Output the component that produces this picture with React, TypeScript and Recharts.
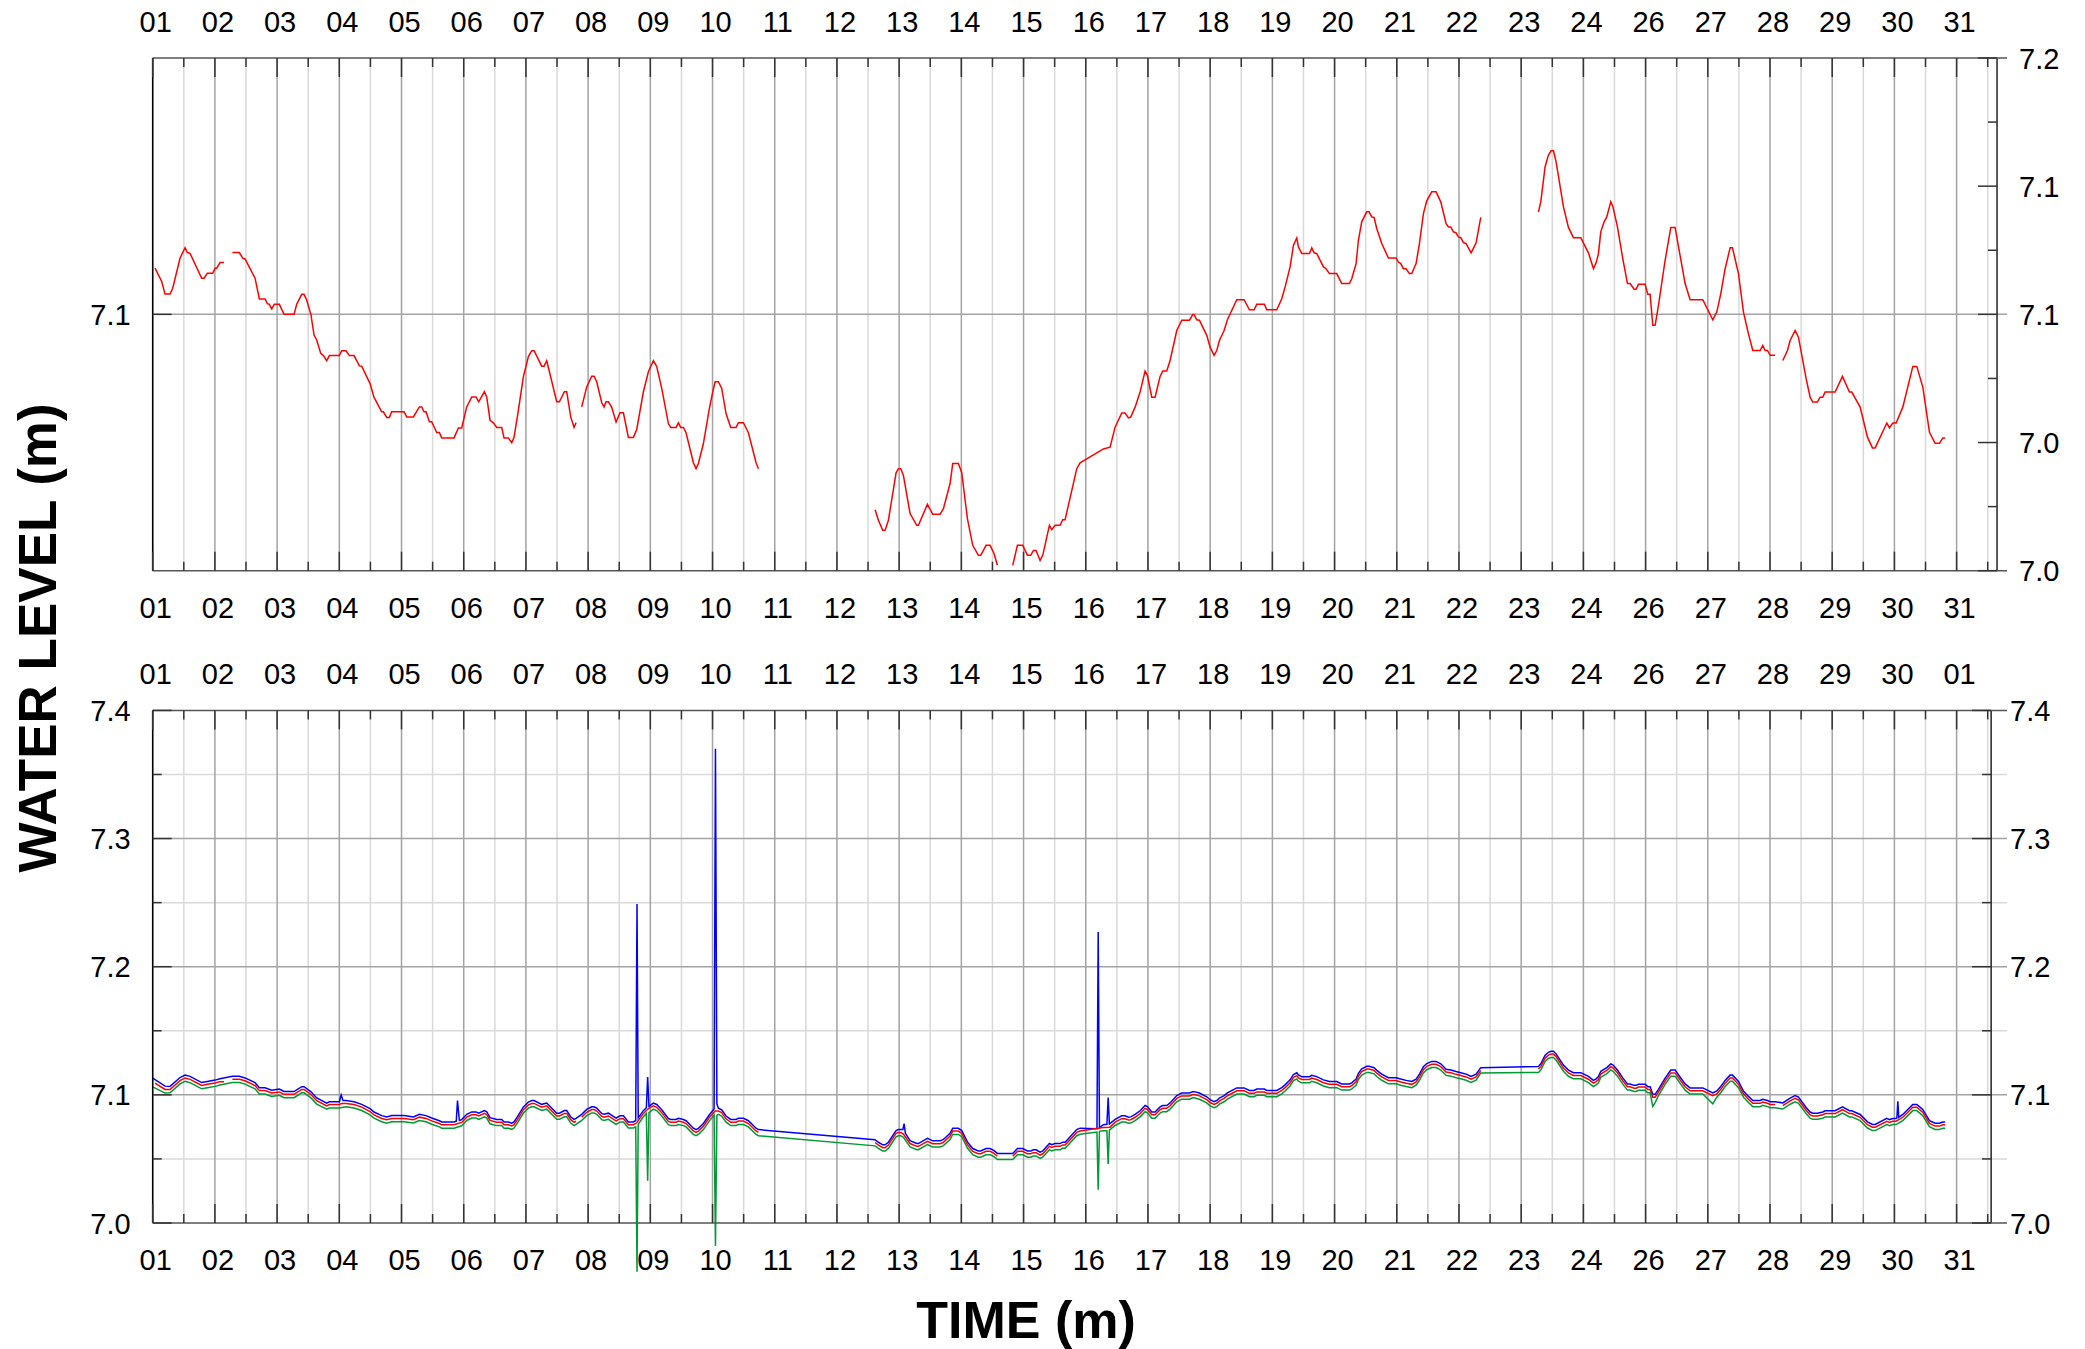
import React from 'react';
import { LineChart, Line, XAxis, YAxis, CartesianGrid, ReferenceLine } from 'recharts';

const FONT = '"Liberation Sans", Arial, sans-serif';

// ---------- tick labels ----------
const daysA = ['01','02','03','04','05','06','07','08','09','10','11','12','13','14','15','16','17','18','19','20','21','22','23','24','26','27','28','29','30','31'];
const daysB = ['01','02','03','04','05','06','07','08','09','10','11','12','13','14','15','16','17','18','19','20','21','22','23','24','26','27','28','29','30','01'];
const majorDays = daysA.map((_, i) => i);
const minorDays = daysA.map((_, i) => i + 0.5);
const allDayTicks = [...majorDays, ...minorDays].sort((a, b) => a - b);

const topLeftTicks = [7.1];
const topLeftLabels = ['7.1'];
const topRightTicks = [7.0, 7.025, 7.05, 7.075, 7.1, 7.125, 7.15, 7.175, 7.2];
const topRightLabels = ['7.0', '', '7.0', '', '7.1', '', '7.1', '', '7.2'];

const botTicks = [7.0, 7.05, 7.1, 7.15, 7.2, 7.25, 7.3, 7.35, 7.4];
const botLabels = ['7.0', '', '7.1', '', '7.2', '', '7.3', '', '7.4'];
const botMajorH = [7.1, 7.2, 7.3];
const botMinorH = [7.05, 7.15, 7.25, 7.35];

// ---------- data: [day index, water level (m)] ----------
const topRed: [number, number | null][] = [
  [0.0375,7.1180],[0.1447,7.1128],[0.1983,7.1079],[0.2787,7.1079],[0.3215,7.1102],[0.4394,7.1219],[0.5198,7.1260],[0.5573,7.1241],[0.6002,7.1238],[0.7878,7.1141],[0.8253,7.1141],[0.8789,7.1160],[0.9646,7.1160],[1.0021,7.1180],[1.0289,7.1180],[1.0825,7.1202],[1.1468,7.1202],
  [1.21,null],
  [1.2808,7.1241],[1.3933,7.1241],[1.4469,7.1219],[1.4844,7.1216],[1.6452,7.1141],[1.7149,7.1060],[1.8060,7.1060],[1.8435,7.1042],[1.8757,7.1039],[1.9132,7.1021],[1.9560,7.1039],[2.0364,7.1039],[2.1114,7.1000],[2.2722,7.1000],[2.3151,7.1039],[2.3955,7.1078],[2.4330,7.1078],[2.4759,7.1056],[2.5455,7.0997],[2.5938,7.0919],[2.6366,7.0900],[2.7009,7.0848],[2.7438,7.0839],[2.7974,7.0819],[2.8403,7.0839],[3.0010,7.0839],[3.0386,7.0858],[3.1082,7.0858],[3.1618,7.0839],[3.2368,7.0839],[3.3226,7.0799],[3.3601,7.0798],[3.4941,7.0730],[3.5584,7.0676],[3.6816,7.0620],[3.7084,7.0620],[3.7620,7.0598],[3.8049,7.0598],[3.8424,7.0620],[4.0407,7.0620],[4.0836,7.0600],[4.1908,7.0600],[4.2872,7.0639],[4.3248,7.0639],[4.3623,7.0620],[4.3944,7.0620],[4.4480,7.0581],[4.4855,7.0581],[4.5659,7.0539],[4.6088,7.0539],[4.6463,7.0518],[4.8445,7.0518],[4.9142,7.0557],[4.9678,7.0557],[5.0482,7.0639],[5.1286,7.0678],[5.1982,7.0678],[5.2411,7.0659],[5.3322,7.0698],[5.3697,7.0678],[5.4233,7.0587],[5.4769,7.0577],[5.5305,7.0559],[5.6109,7.0559],[5.6484,7.0518],[5.7181,7.0518],[5.7717,7.0499],[5.8092,7.0520],[5.8789,7.0626],[5.9593,7.0757],[6.0397,7.0835],[6.0932,7.0858],[6.1308,7.0858],[6.2540,7.0798],[6.2916,7.0798],[6.3344,7.0819],[6.4952,7.0659],[6.5380,7.0659],[6.6184,7.0698],[6.6559,7.0698],[6.7202,7.0600],[6.7738,7.0559],[6.8059,7.0577],
  [6.85,null],
  [6.8970,7.0639],[6.9774,7.0717],[7.0578,7.0759],[7.0953,7.0759],[7.1382,7.0737],[7.2186,7.0655],[7.2561,7.0639],[7.2883,7.0659],[7.3258,7.0659],[7.3794,7.0637],[7.4491,7.0580],[7.5134,7.0616],[7.5669,7.0616],[7.6473,7.0520],[7.7277,7.0520],[7.7813,7.0551],[7.8885,7.0698],[7.9689,7.0776],[8.0493,7.0819],[8.1029,7.0796],[8.1833,7.0711],[8.2904,7.0574],[8.3280,7.0559],[8.4137,7.0559],[8.4512,7.0577],[8.4888,7.0559],[8.5317,7.0559],[8.5744,7.0538],[8.6923,7.0421],[8.7352,7.0398],[8.7727,7.0418],[8.8531,7.0496],[8.9495,7.0633],[8.9871,7.0678],[9.0407,7.0737],[9.0942,7.0737],[9.1478,7.0711],[9.2175,7.0613],[9.2925,7.0559],[9.3783,7.0559],[9.4158,7.0577],[9.4962,7.0577],[9.5766,7.0538],[9.6998,7.0421],[9.7374,7.0398],
  [10.5,null],
  [11.6130,7.0238],[11.6666,7.0197],[11.7362,7.0158],[11.7738,7.0158],[11.8273,7.0197],[11.9506,7.0382],[11.9881,7.0398],[12.0256,7.0398],[12.0685,7.0372],[12.1757,7.0223],[12.2829,7.0177],[12.3096,7.0177],[12.4543,7.0259],[12.5401,7.0220],[12.6580,7.0220],[12.7116,7.0242],[12.8187,7.0340],[12.8616,7.0418],[12.9527,7.0418],[13.0063,7.0382],[13.0974,7.0203],[13.1831,7.0099],[13.2742,7.0060],[13.3118,7.0060],[13.3975,7.0099],[13.4618,7.0099],[13.5261,7.0066],[13.5797,7.0021],
  [13.70,null],
  [13.8262,7.0021],[13.9013,7.0099],[13.9870,7.0099],[14.0620,7.0060],[14.1156,7.0060],[14.1585,7.0079],[14.2014,7.0079],[14.2657,7.0040],[14.3085,7.0060],[14.4157,7.0177],[14.4533,7.0160],[14.5069,7.0177],[14.5873,7.0177],[14.6302,7.0199],[14.6677,7.0199],[14.8553,7.0398],[14.9089,7.0421],[15.2839,7.0475],[15.3911,7.0482],[15.4715,7.0560],[15.5787,7.0615],[15.6322,7.0615],[15.6858,7.0596],[15.7233,7.0599],[15.7930,7.0638],[15.8734,7.0697],[15.9538,7.0779],[15.9913,7.0762],[16.0610,7.0677],[16.1146,7.0677],[16.1950,7.0758],[16.2378,7.0779],[16.3021,7.0779],[16.3557,7.0820],[16.4629,7.0937],[16.5433,7.0977],[16.6666,7.0977],[16.7202,7.0999],[16.7416,7.0999],[16.7845,7.0979],[16.8273,7.0977],[16.9452,7.0918],[16.9988,7.0872],[17.0631,7.0840],[17.1060,7.0859],[17.1489,7.0898],[17.2239,7.0937],[17.2775,7.0979],[17.4275,7.1057],[17.5454,7.1057],[17.6312,7.1018],[17.7062,7.1018],[17.7491,7.1039],[17.8724,7.1039],[17.9099,7.1018],[18.0707,7.1018],[18.1511,7.1061],[18.2047,7.1107],[18.2851,7.1185],[18.3387,7.1270],[18.3923,7.1298],[18.4190,7.1263],[18.4726,7.1237],[18.5959,7.1237],[18.6334,7.1259],[18.6710,7.1240],[18.7138,7.1237],[18.8210,7.1185],[18.8639,7.1178],[18.9175,7.1159],[19.0348,7.1159],[19.1152,7.1120],[19.2385,7.1120],[19.2760,7.1139],[19.3457,7.1198],[19.3832,7.1289],[19.4368,7.1361],[19.5172,7.1400],[19.5547,7.1400],[19.5976,7.1380],[19.6351,7.1378],[19.6780,7.1335],[19.7584,7.1276],[19.8656,7.1220],[19.9888,7.1220],[20.0263,7.1204],[20.0639,7.1198],[20.1067,7.1178],[20.1496,7.1178],[20.2032,7.1159],[20.2407,7.1159],[20.3104,7.1198],[20.3640,7.1276],[20.4283,7.1393],[20.4819,7.1443],[20.5623,7.1478],[20.6320,7.1478],[20.7070,7.1439],[20.7928,7.1354],[20.8303,7.1341],[20.8678,7.1341],[20.9107,7.1322],[20.9536,7.1318],[20.9911,7.1302],[21.0286,7.1299],[21.0715,7.1280],[21.1144,7.1276],[21.1948,7.1240],[21.2752,7.1279],[21.3502,7.1378],
  [21.8,null],
  [22.2774,7.1400],[22.3149,7.1439],[22.3846,7.1576],[22.4382,7.1621],[22.4810,7.1638],[22.5186,7.1638],[22.5614,7.1595],[22.6793,7.1419],[22.7597,7.1339],[22.8401,7.1299],[22.9580,7.1299],[23.0813,7.1240],[23.1617,7.1178],[23.2046,7.1201],[23.2421,7.1237],[23.2796,7.1322],[23.3332,7.1361],[23.3761,7.1380],[23.4404,7.1439],[23.4725,7.1422],[23.5476,7.1341],[23.6333,7.1217],[23.7084,7.1120],[23.7512,7.1120],[23.8155,7.1098],[23.8477,7.1098],[23.8852,7.1117],[23.9924,7.1117],[24.0352,7.1078],[24.0728,7.1078],[24.1156,7.0957],[24.1532,7.0957],[24.2068,7.1035],[24.3140,7.1211],[24.4051,7.1339],[24.4747,7.1339],[24.5444,7.1243],[24.6355,7.1120],[24.7159,7.1057],[24.9195,7.1057],[25.0803,7.0979],[25.1446,7.1009],[25.2089,7.1081],[25.2786,7.1178],[25.3590,7.1260],[25.3965,7.1260],[25.4930,7.1159],[25.5734,7.1009],[25.6538,7.0924],[25.7232,7.0859],[25.8411,7.0859],[25.8840,7.0879],[25.9215,7.0859],[25.9590,7.0859],[26.0019,7.0840],[26.0823,7.0840],
  [26.14,null],
  [26.2055,7.0820],[26.2805,7.0859],[26.3234,7.0898],[26.4038,7.0937],[26.4574,7.0911],[26.5807,7.0749],[26.6450,7.0677],[26.6878,7.0658],[26.7629,7.0658],[26.8058,7.0677],[26.8486,7.0677],[26.8862,7.0697],[27.0470,7.0697],[27.1649,7.0758],[27.2774,7.0697],[27.3150,7.0697],[27.4490,7.0638],[27.5669,7.0521],[27.6473,7.0479],[27.6902,7.0479],[27.8777,7.0576],[27.9206,7.0557],[27.9742,7.0576],[28.0278,7.0576],[28.1350,7.0638],[28.2957,7.0797],[28.3601,7.0797],[28.4565,7.0716],[28.5637,7.0540],[28.6548,7.0497],[28.7245,7.0497],[28.7781,7.0518],[28.8156,7.0518],
];

const botRed: [number, number | null][] = [
  [0.0375,7.1092],[0.1983,7.1042],[0.2787,7.1042],[0.4394,7.1111],[0.5198,7.1132],[0.6002,7.1121],[0.7878,7.1073],[0.8789,7.1082],[1.0021,7.1092],[1.0825,7.1103],[1.1468,7.1103],
  [1.21,null],
  [1.2808,7.1122],[1.3933,7.1122],[1.4844,7.1110],[1.6452,7.1073],[1.7149,7.1033],[1.8060,7.1033],[1.9132,7.1014],[2.0364,7.1023],[2.1114,7.1004],[2.2722,7.1004],[2.3955,7.1042],[2.4330,7.1042],[2.5455,7.1002],[2.6366,7.0954],[2.7974,7.0914],[2.8403,7.0924],[3.0010,7.0924],[3.0386,7.0933],[3.1082,7.0933],[3.2368,7.0924],[3.3601,7.0904],[3.4941,7.0870],[3.5584,7.0844],[3.6816,7.0816],[3.7620,7.0805],[3.8424,7.0816],[4.0407,7.0816],[4.1908,7.0806],[4.2872,7.0826],[4.3944,7.0816],[4.4855,7.0797],[4.6088,7.0776],[4.6463,7.0766],[4.8445,7.0766],[4.9678,7.0785],[5.0482,7.0826],[5.1286,7.0845],[5.1982,7.0845],[5.2411,7.0835],[5.3322,7.0855],[5.3697,7.0845],[5.4233,7.0800],[5.5305,7.0786],[5.6109,7.0786],[5.6484,7.0766],[5.7181,7.0766],[5.7717,7.0757],[5.8092,7.0767],[5.8789,7.0819],[5.9593,7.0884],[6.0397,7.0922],[6.0932,7.0933],[6.1308,7.0933],[6.2540,7.0904],[6.3344,7.0914],[6.4952,7.0835],[6.5380,7.0835],[6.6184,7.0855],[6.6559,7.0855],[6.7202,7.0806],[6.7738,7.0786],[6.8059,7.0795],
  [6.85,null],
  [6.8970,7.0826],[6.9774,7.0864],[7.0578,7.0885],[7.0953,7.0885],[7.1382,7.0874],[7.2186,7.0833],[7.2561,7.0826],[7.3258,7.0835],[7.4491,7.0796],[7.5134,7.0814],[7.5669,7.0814],[7.6473,7.0767],[7.7277,7.0767],[7.7813,7.0782],[7.8885,7.0855],[7.9689,7.0893],[8.0493,7.0914],[8.1029,7.0903],[8.1833,7.0861],[8.2904,7.0793],[8.3280,7.0786],[8.4137,7.0786],[8.4512,7.0795],[8.5317,7.0786],[8.5744,7.0776],[8.6923,7.0718],[8.7352,7.0707],[8.7727,7.0717],[8.8531,7.0755],[8.9495,7.0823],[9.0407,7.0874],[9.0942,7.0874],[9.1478,7.0861],[9.2175,7.0813],[9.2925,7.0786],[9.3783,7.0786],[9.4158,7.0795],[9.4962,7.0795],[9.5766,7.0776],[9.6998,7.0718],[9.7374,7.0707],
  [10.5,null],
  [11.6130,7.0628],[11.6666,7.0608],[11.7362,7.0588],[11.7738,7.0588],[11.8273,7.0608],[11.9506,7.0699],[11.9881,7.0707],[12.0256,7.0707],[12.0685,7.0694],[12.1757,7.0620],[12.2829,7.0598],[12.3096,7.0598],[12.4543,7.0638],[12.5401,7.0619],[12.6580,7.0619],[12.7116,7.0630],[12.8187,7.0678],[12.8616,7.0717],[12.9527,7.0717],[13.0063,7.0699],[13.0974,7.0611],[13.1831,7.0559],[13.2742,7.0540],[13.3118,7.0540],[13.3975,7.0559],[13.4618,7.0559],[13.5261,7.0543],[13.5797,7.0521],
  [13.70,null],
  [13.8262,7.0521],[13.9013,7.0559],[13.9870,7.0559],[14.0620,7.0540],[14.1156,7.0540],[14.1585,7.0549],[14.2014,7.0549],[14.2657,7.0530],[14.3085,7.0540],[14.4157,7.0598],[14.4533,7.0589],[14.5069,7.0598],[14.5873,7.0598],[14.6302,7.0609],[14.6677,7.0609],[14.8553,7.0707],[14.9089,7.0718],[15.2839,7.0745],[15.3911,7.0748],[15.4715,7.0787],[15.5787,7.0814],[15.6322,7.0814],[15.6858,7.0804],[15.7233,7.0806],[15.7930,7.0825],[15.8734,7.0854],[15.9538,7.0895],[15.9913,7.0886],[16.0610,7.0844],[16.1146,7.0844],[16.1950,7.0884],[16.2378,7.0895],[16.3021,7.0895],[16.3557,7.0915],[16.4629,7.0972],[16.5433,7.0992],[16.6666,7.0992],[16.7202,7.1003],[16.7416,7.1003],[16.8273,7.0992],[16.9452,7.0963],[16.9988,7.0940],[17.0631,7.0925],[17.1060,7.0934],[17.1489,7.0953],[17.2239,7.0972],[17.2775,7.0993],[17.4275,7.1032],[17.5454,7.1032],[17.6312,7.1012],[17.7062,7.1012],[17.7491,7.1023],[17.8724,7.1023],[17.9099,7.1012],[18.0707,7.1012],[18.1511,7.1034],[18.2047,7.1056],[18.2851,7.1095],[18.3387,7.1137],[18.3923,7.1150],[18.4190,7.1133],[18.4726,7.1120],[18.5959,7.1120],[18.6334,7.1131],[18.7138,7.1120],[18.8210,7.1095],[18.9175,7.1082],[19.0348,7.1082],[19.1152,7.1063],[19.2385,7.1063],[19.2760,7.1072],[19.3457,7.1101],[19.3832,7.1146],[19.4368,7.1181],[19.5172,7.1201],[19.5547,7.1201],[19.6351,7.1190],[19.6780,7.1169],[19.7584,7.1140],[19.8656,7.1112],[19.9888,7.1112],[20.0639,7.1101],[20.1496,7.1091],[20.2407,7.1082],[20.3104,7.1101],[20.3640,7.1140],[20.4283,7.1197],[20.4819,7.1222],[20.5623,7.1239],[20.6320,7.1239],[20.7070,7.1220],[20.7928,7.1178],[20.8678,7.1172],[20.9536,7.1160],[21.0286,7.1151],[21.1144,7.1140],[21.1948,7.1122],[21.2752,7.1140],[21.3502,7.1190],
  [21.8,null],
  [22.2774,7.1201],[22.3149,7.1220],[22.3846,7.1287],[22.4382,7.1310],[22.4810,7.1318],[22.5186,7.1318],[22.5614,7.1297],[22.6793,7.1210],[22.7597,7.1171],[22.8401,7.1151],[22.9580,7.1151],[23.0813,7.1122],[23.1617,7.1091],[23.2046,7.1103],[23.2421,7.1120],[23.2796,7.1162],[23.3761,7.1191],[23.4404,7.1220],[23.4725,7.1212],[23.5476,7.1172],[23.6333,7.1110],[23.7084,7.1063],[23.7512,7.1063],[23.8155,7.1052],[23.8477,7.1052],[23.8852,7.1061],[23.9924,7.1061],[24.0352,7.1042],[24.0728,7.1042],[24.1156,7.0982],[24.1532,7.0982],[24.2068,7.1021],[24.3140,7.1108],[24.4051,7.1171],[24.4747,7.1171],[24.5444,7.1123],[24.6355,7.1063],[24.7159,7.1032],[24.9195,7.1032],[25.0803,7.0993],[25.1446,7.1008],[25.2089,7.1043],[25.2786,7.1091],[25.3590,7.1132],[25.3965,7.1132],[25.4930,7.1082],[25.5734,7.1008],[25.6538,7.0966],[25.7232,7.0934],[25.8411,7.0934],[25.8840,7.0944],[25.9590,7.0934],[26.0019,7.0925],[26.0823,7.0925],
  [26.14,null],
  [26.2055,7.0915],[26.3234,7.0953],[26.4038,7.0972],[26.4574,7.0960],[26.5807,7.0880],[26.6450,7.0844],[26.6878,7.0835],[26.7629,7.0835],[26.8486,7.0844],[26.8862,7.0854],[27.0470,7.0854],[27.1649,7.0884],[27.2774,7.0854],[27.3150,7.0854],[27.4490,7.0825],[27.5669,7.0767],[27.6473,7.0747],[27.6902,7.0747],[27.8777,7.0794],[27.9206,7.0785],[27.9742,7.0794],[28.0278,7.0794],[28.1350,7.0825],[28.2957,7.0903],[28.3601,7.0903],[28.4565,7.0863],[28.5637,7.0777],[28.6548,7.0756],[28.7245,7.0756],[28.7781,7.0766],[28.8156,7.0766],
];

const botBlue: [number, number][] = [
  [0.0,7.1130],[0.1983,7.1068],[0.2787,7.1066],[0.4394,7.1135],[0.5198,7.1155],[0.6002,7.1144],[0.7878,7.1096],[0.8789,7.1105],[1.0021,7.1115],[1.0825,7.1126],[1.2808,7.1145],[1.3933,7.1145],[1.4844,7.1132],[1.6452,7.1095],[1.7149,7.1055],[1.8060,7.1055],[1.9132,7.1036],[2.0364,7.1045],[2.1114,7.1026],[2.2722,7.1026],[2.3955,7.1064],[2.4330,7.1064],[2.5455,7.1024],[2.6366,7.0976],[2.7974,7.0936],[2.8403,7.0946],[3.0010,7.0946],[3.0300,7.0999],[3.0600,7.0955],[3.1082,7.0955],[3.2368,7.0946],[3.3601,7.0926],[3.4941,7.0892],[3.5584,7.0866],[3.6816,7.0838],[3.7620,7.0827],[3.8424,7.0838],[4.0407,7.0838],[4.1908,7.0828],[4.2872,7.0848],[4.3944,7.0838],[4.4855,7.0819],[4.6088,7.0798],[4.6463,7.0788],[4.8445,7.0788],[4.8800,7.0795],[4.9000,7.0955],[4.9300,7.0800],[4.9678,7.0807],[5.0482,7.0848],[5.1286,7.0867],[5.1982,7.0867],[5.2411,7.0857],[5.3322,7.0877],[5.3697,7.0867],[5.4233,7.0822],[5.5305,7.0808],[5.6109,7.0808],[5.6484,7.0788],[5.7181,7.0788],[5.7717,7.0779],[5.8092,7.0789],[5.8789,7.0841],[5.9593,7.0906],[6.0397,7.0944],[6.0932,7.0955],[6.1308,7.0955],[6.2540,7.0926],[6.3344,7.0936],[6.4952,7.0857],[6.5380,7.0857],[6.6184,7.0877],[6.6559,7.0877],[6.7202,7.0828],[6.7738,7.0808],[6.8059,7.0817],[6.8970,7.0848],[6.9774,7.0886],[7.0578,7.0907],[7.0953,7.0907],[7.1382,7.0896],[7.2186,7.0855],[7.2561,7.0848],[7.3258,7.0857],[7.4491,7.0818],[7.5134,7.0836],[7.5669,7.0836],[7.6473,7.0789],[7.7277,7.0789],[7.7650,7.0800],[7.7860,7.2490],[7.8050,7.0820],[7.8885,7.0877],[7.9360,7.0900],[7.9570,7.1140],[7.9780,7.0910],[8.0493,7.0936],[8.1029,7.0925],[8.1833,7.0883],[8.2904,7.0815],[8.3280,7.0808],[8.4137,7.0808],[8.4512,7.0817],[8.5317,7.0808],[8.5744,7.0798],[8.6923,7.0740],[8.7352,7.0729],[8.7727,7.0739],[8.8531,7.0777],[8.9495,7.0845],[9.0250,7.0890],[9.0470,7.3700],[9.0700,7.0930],[9.0942,7.0896],[9.1478,7.0883],[9.2175,7.0835],[9.2925,7.0808],[9.3783,7.0808],[9.4158,7.0817],[9.4962,7.0817],[9.5766,7.0798],[9.6998,7.0740],[9.7374,7.0729],
  [11.6130,7.0650],[11.6666,7.0630],[11.7362,7.0610],[11.7738,7.0610],[11.8273,7.0630],[11.9506,7.0721],[11.9881,7.0729],[12.0256,7.0729],[12.0600,7.0730],[12.0800,7.0776],[12.1000,7.0700],[12.1757,7.0642],[12.2829,7.0620],[12.3096,7.0620],[12.4543,7.0660],[12.5401,7.0641],[12.6580,7.0641],[12.7116,7.0652],[12.8187,7.0700],[12.8616,7.0739],[12.9527,7.0739],[13.0063,7.0721],[13.0974,7.0633],[13.1831,7.0581],[13.2742,7.0562],[13.3118,7.0562],[13.3975,7.0581],[13.4618,7.0581],[13.5261,7.0565],[13.5797,7.0543],[13.8262,7.0543],[13.9013,7.0581],[13.9870,7.0581],[14.0620,7.0562],[14.1156,7.0562],[14.1585,7.0571],[14.2014,7.0571],[14.2657,7.0552],[14.3085,7.0562],[14.4157,7.0620],[14.4533,7.0611],[14.5069,7.0620],[14.5873,7.0620],[14.6302,7.0631],[14.6677,7.0631],[14.8553,7.0729],[14.9089,7.0740],[15.1800,7.0735],[15.2000,7.2270],[15.2200,7.0745],[15.2839,7.0767],[15.3400,7.0770],[15.3600,7.0980],[15.3800,7.0772],[15.4715,7.0809],[15.5787,7.0836],[15.6322,7.0836],[15.6858,7.0826],[15.7233,7.0828],[15.7930,7.0847],[15.8734,7.0876],[15.9538,7.0917],[15.9913,7.0908],[16.0610,7.0866],[16.1146,7.0866],[16.1950,7.0906],[16.2378,7.0917],[16.3021,7.0917],[16.3557,7.0937],[16.4629,7.0994],[16.5433,7.1014],[16.6666,7.1014],[16.7202,7.1025],[16.7416,7.1025],[16.8273,7.1014],[16.9452,7.0985],[16.9988,7.0962],[17.0631,7.0947],[17.1060,7.0956],[17.1489,7.0975],[17.2239,7.0994],[17.2775,7.1015],[17.4275,7.1054],[17.5454,7.1054],[17.6312,7.1034],[17.7062,7.1034],[17.7491,7.1045],[17.8724,7.1045],[17.9099,7.1034],[18.0707,7.1034],[18.1511,7.1056],[18.2047,7.1078],[18.2851,7.1117],[18.3387,7.1159],[18.3923,7.1172],[18.4190,7.1155],[18.4726,7.1142],[18.5959,7.1142],[18.6334,7.1153],[18.7138,7.1142],[18.8210,7.1117],[18.9175,7.1104],[19.0348,7.1104],[19.1152,7.1085],[19.2385,7.1085],[19.2760,7.1094],[19.3457,7.1123],[19.3832,7.1168],[19.4368,7.1203],[19.5172,7.1223],[19.5547,7.1223],[19.6351,7.1212],[19.6780,7.1191],[19.7584,7.1162],[19.8656,7.1134],[19.9888,7.1134],[20.0639,7.1123],[20.1496,7.1113],[20.2407,7.1104],[20.3104,7.1123],[20.3640,7.1162],[20.4283,7.1219],[20.4819,7.1244],[20.5623,7.1261],[20.6320,7.1261],[20.7070,7.1242],[20.7928,7.1200],[20.8678,7.1194],[20.9536,7.1182],[21.0286,7.1173],[21.1144,7.1162],[21.1948,7.1144],[21.2752,7.1162],[21.3502,7.1212],
  [22.2774,7.1222],[22.3149,7.1242],[22.3846,7.1309],[22.4382,7.1332],[22.4810,7.1340],[22.5186,7.1340],[22.5614,7.1319],[22.6793,7.1232],[22.7597,7.1193],[22.8401,7.1173],[22.9580,7.1173],[23.0813,7.1144],[23.1617,7.1113],[23.2046,7.1125],[23.2421,7.1142],[23.2796,7.1184],[23.3761,7.1213],[23.4404,7.1242],[23.4725,7.1234],[23.5476,7.1194],[23.6333,7.1132],[23.7084,7.1085],[23.7512,7.1085],[23.8155,7.1074],[23.8477,7.1074],[23.8852,7.1083],[23.9924,7.1083],[24.0352,7.1064],[24.0728,7.1064],[24.1156,7.1004],[24.1532,7.1004],[24.2068,7.1043],[24.3140,7.1130],[24.4051,7.1193],[24.4747,7.1193],[24.5444,7.1145],[24.6355,7.1085],[24.7159,7.1054],[24.9195,7.1054],[25.0803,7.1015],[25.1446,7.1030],[25.2089,7.1065],[25.2786,7.1113],[25.3590,7.1154],[25.3965,7.1154],[25.4930,7.1104],[25.5734,7.1030],[25.6538,7.0988],[25.7232,7.0956],[25.8411,7.0956],[25.8840,7.0966],[25.9590,7.0956],[26.0019,7.0947],[26.0823,7.0947],[26.2055,7.0937],[26.3234,7.0975],[26.4038,7.0994],[26.4574,7.0982],[26.5807,7.0902],[26.6450,7.0866],[26.6878,7.0857],[26.7629,7.0857],[26.8486,7.0866],[26.8862,7.0876],[27.0470,7.0876],[27.1649,7.0906],[27.2774,7.0876],[27.3150,7.0876],[27.4490,7.0847],[27.5669,7.0789],[27.6473,7.0769],[27.6902,7.0769],[27.8777,7.0816],[27.9206,7.0807],[27.9742,7.0816],[28.0278,7.0816],[28.0400,7.0820],[28.0550,7.0950],[28.0700,7.0825],[28.1350,7.0847],[28.2957,7.0925],[28.3601,7.0925],[28.4565,7.0885],[28.5637,7.0799],[28.6548,7.0778],[28.7245,7.0778],[28.7781,7.0788],[28.8156,7.0788],
];

const botGreen: [number, number][] = [
  [0.0,7.1062],[0.1983,7.1014],[0.2787,7.1016],[0.4394,7.1085],[0.5198,7.1106],[0.6002,7.1095],[0.7878,7.1047],[0.8789,7.1056],[1.0021,7.1066],[1.0825,7.1077],[1.2808,7.1096],[1.3933,7.1096],[1.4844,7.1084],[1.6452,7.1047],[1.7149,7.1007],[1.8060,7.1007],[1.9132,7.0988],[2.0364,7.0997],[2.1114,7.0978],[2.2722,7.0978],[2.3955,7.1016],[2.4330,7.1016],[2.5455,7.0976],[2.6366,7.0928],[2.7974,7.0888],[2.8403,7.0898],[3.0010,7.0898],[3.1082,7.0907],[3.2368,7.0898],[3.3601,7.0878],[3.4941,7.0844],[3.5584,7.0818],[3.6816,7.0790],[3.7620,7.0779],[3.8424,7.0790],[4.0407,7.0790],[4.1908,7.0780],[4.2872,7.0800],[4.3944,7.0790],[4.4855,7.0771],[4.6088,7.0750],[4.6463,7.0740],[4.8445,7.0740],[4.9678,7.0759],[5.0482,7.0800],[5.1286,7.0819],[5.1982,7.0819],[5.2411,7.0809],[5.3322,7.0829],[5.3697,7.0819],[5.4233,7.0774],[5.5305,7.0760],[5.6109,7.0760],[5.6484,7.0740],[5.7181,7.0740],[5.7717,7.0731],[5.8092,7.0741],[5.8789,7.0793],[5.9593,7.0858],[6.0397,7.0896],[6.0932,7.0907],[6.1308,7.0907],[6.2540,7.0878],[6.3344,7.0888],[6.4952,7.0809],[6.5380,7.0809],[6.6184,7.0829],[6.6559,7.0829],[6.7202,7.0780],[6.7738,7.0760],[6.8059,7.0769],[6.8970,7.0800],[6.9774,7.0838],[7.0578,7.0859],[7.0953,7.0859],[7.1382,7.0848],[7.2186,7.0807],[7.2561,7.0800],[7.3258,7.0809],[7.4491,7.0770],[7.5134,7.0788],[7.5669,7.0788],[7.6473,7.0741],[7.7277,7.0741],[7.7650,7.0750],[7.7860,6.9620],[7.8050,7.0770],[7.8885,7.0829],[7.9360,7.0855],[7.9570,7.0330],[7.9780,7.0862],[8.0493,7.0888],[8.1029,7.0877],[8.1833,7.0835],[8.2904,7.0767],[8.3280,7.0760],[8.4137,7.0760],[8.4512,7.0769],[8.5317,7.0760],[8.5744,7.0750],[8.6923,7.0692],[8.7352,7.0681],[8.7727,7.0691],[8.8531,7.0729],[8.9495,7.0797],[9.0250,7.0842],[9.0470,6.9820],[9.0700,7.0840],[9.0942,7.0848],[9.1478,7.0835],[9.2175,7.0787],[9.2925,7.0760],[9.3783,7.0760],[9.4158,7.0769],[9.4962,7.0769],[9.5766,7.0750],[9.6998,7.0692],[9.7374,7.0681],
  [11.6130,7.0602],[11.6666,7.0582],[11.7362,7.0562],[11.7738,7.0562],[11.8273,7.0582],[11.9506,7.0673],[11.9881,7.0681],[12.0256,7.0681],[12.0685,7.0668],[12.1757,7.0594],[12.2829,7.0572],[12.3096,7.0572],[12.4543,7.0612],[12.5401,7.0593],[12.6580,7.0593],[12.7116,7.0604],[12.8187,7.0652],[12.8616,7.0691],[12.9527,7.0691],[13.0063,7.0673],[13.0974,7.0585],[13.1831,7.0533],[13.2742,7.0514],[13.3118,7.0514],[13.3975,7.0533],[13.4618,7.0533],[13.5261,7.0517],[13.5797,7.0495],[13.8262,7.0495],[13.9013,7.0533],[13.9870,7.0533],[14.0620,7.0514],[14.1156,7.0514],[14.1585,7.0523],[14.2014,7.0523],[14.2657,7.0504],[14.3085,7.0514],[14.4157,7.0572],[14.4533,7.0563],[14.5069,7.0572],[14.5873,7.0572],[14.6302,7.0583],[14.6677,7.0583],[14.8553,7.0681],[14.9089,7.0692],[15.1800,7.0710],[15.2000,7.0260],[15.2200,7.0715],[15.2839,7.0719],[15.3400,7.0720],[15.3600,7.0460],[15.3800,7.0724],[15.4715,7.0761],[15.5787,7.0788],[15.6322,7.0788],[15.6858,7.0778],[15.7233,7.0780],[15.7930,7.0799],[15.8734,7.0828],[15.9538,7.0869],[15.9913,7.0860],[16.0610,7.0818],[16.1146,7.0818],[16.1950,7.0858],[16.2378,7.0869],[16.3021,7.0869],[16.3557,7.0889],[16.4629,7.0946],[16.5433,7.0966],[16.6666,7.0966],[16.7202,7.0977],[16.7416,7.0977],[16.8273,7.0966],[16.9452,7.0937],[16.9988,7.0914],[17.0631,7.0899],[17.1060,7.0908],[17.1489,7.0927],[17.2239,7.0946],[17.2775,7.0967],[17.4275,7.1006],[17.5454,7.1006],[17.6312,7.0986],[17.7062,7.0986],[17.7491,7.0997],[17.8724,7.0997],[17.9099,7.0986],[18.0707,7.0986],[18.1511,7.1008],[18.2047,7.1030],[18.2851,7.1069],[18.3387,7.1111],[18.3923,7.1124],[18.4190,7.1107],[18.4726,7.1094],[18.5959,7.1094],[18.6334,7.1105],[18.7138,7.1094],[18.8210,7.1069],[18.9175,7.1056],[19.0348,7.1056],[19.1152,7.1037],[19.2385,7.1037],[19.2760,7.1046],[19.3457,7.1075],[19.3832,7.1120],[19.4368,7.1155],[19.5172,7.1175],[19.5547,7.1175],[19.6351,7.1164],[19.6780,7.1143],[19.7584,7.1114],[19.8656,7.1086],[19.9888,7.1086],[20.0639,7.1075],[20.1496,7.1065],[20.2407,7.1056],[20.3104,7.1075],[20.3640,7.1114],[20.4283,7.1171],[20.4819,7.1196],[20.5623,7.1213],[20.6320,7.1213],[20.7070,7.1194],[20.7928,7.1152],[20.8678,7.1146],[20.9536,7.1134],[21.0286,7.1125],[21.1144,7.1114],[21.1948,7.1096],[21.2752,7.1114],[21.3502,7.1170],
  [22.2774,7.1175],[22.3149,7.1194],[22.3846,7.1261],[22.4382,7.1284],[22.4810,7.1292],[22.5186,7.1292],[22.5614,7.1271],[22.6793,7.1184],[22.7597,7.1145],[22.8401,7.1125],[22.9580,7.1125],[23.0813,7.1096],[23.1617,7.1065],[23.2046,7.1077],[23.2421,7.1094],[23.2796,7.1136],[23.3761,7.1165],[23.4404,7.1194],[23.4725,7.1186],[23.5476,7.1146],[23.6333,7.1084],[23.7084,7.1037],[23.7512,7.1037],[23.8155,7.1026],[23.8477,7.1026],[23.8852,7.1035],[23.9924,7.1035],[24.0352,7.1016],[24.0728,7.1016],[24.1156,7.0910],[24.1532,7.0940],[24.2068,7.0995],[24.3140,7.1082],[24.4051,7.1145],[24.4747,7.1145],[24.5444,7.1097],[24.6355,7.1037],[24.7159,7.1006],[24.9195,7.1006],[25.0803,7.0930],[25.1446,7.0982],[25.2089,7.1017],[25.2786,7.1065],[25.3590,7.1106],[25.3965,7.1106],[25.4930,7.1056],[25.5734,7.0982],[25.6538,7.0940],[25.7232,7.0908],[25.8411,7.0908],[25.8840,7.0918],[25.9590,7.0908],[26.0019,7.0899],[26.0823,7.0899],[26.2055,7.0889],[26.3234,7.0927],[26.4038,7.0946],[26.4574,7.0934],[26.5807,7.0854],[26.6450,7.0818],[26.6878,7.0809],[26.7629,7.0809],[26.8486,7.0818],[26.8862,7.0828],[27.0470,7.0828],[27.1649,7.0858],[27.2774,7.0828],[27.3150,7.0828],[27.4490,7.0799],[27.5669,7.0741],[27.6473,7.0721],[27.6902,7.0721],[27.8777,7.0768],[27.9206,7.0759],[27.9742,7.0768],[28.0278,7.0768],[28.1350,7.0799],[28.2957,7.0877],[28.3601,7.0877],[28.4565,7.0837],[28.5637,7.0751],[28.6548,7.0730],[28.7245,7.0730],[28.7781,7.0740],[28.8156,7.0740],
];

const toRows = (arr: [number, number | null][]) => arr.map(([t, v]) => ({ t, v }));

const X_MAX = 29.81;
const TOP_RIGHT_AXIS = 29.65;
const BOT_RIGHT_AXIS = 29.555;

const MAJOR_GRID = '#a3a3a3';
const MINOR_GRID = '#d9d9d9';
const TICK_COLOR = '#333333';

function XTick(props: any) {
  const { x, y, payload, labels, side } = props;
  const v = payload.value as number;
  const major = Math.abs(v - Math.round(v)) < 1e-6;
  const dir = side === 'top' ? 1 : -1;
  const l = major ? 19 : 9;
  const label = major ? labels[Math.round(v)] : '';
  return (
    <g>
      <line x1={x} x2={x} y1={y} y2={y + dir * l} stroke={TICK_COLOR} strokeWidth={1.5} />
      {label ? (
        <text x={x + 3} y={side === 'top' ? y - 26 : y + 47} textAnchor="middle" fontSize={29} fontFamily={FONT} fill="#000">{label}</text>
      ) : null}
    </g>
  );
}

function LeftTick(props: any) {
  const { x, y, index, labels } = props;
  const label = labels[index];
  const l = label ? 19 : 9;
  return (
    <g>
      <line x1={x} x2={x + l} y1={y} y2={y} stroke={TICK_COLOR} strokeWidth={1.5} />
      {label ? (
        <text x={x - 22} y={y + 10.5} textAnchor="end" fontSize={29} fontFamily={FONT} fill="#000">{label}</text>
      ) : null}
    </g>
  );
}

function RightTick(props: any) {
  const { x, y, index, labels, shift, gap } = props;
  const ax = x - shift;
  const label = labels[index];
  const l = label ? 19 : 9;
  return (
    <g>
      <line x1={ax - l} x2={ax} y1={y} y2={y} stroke={TICK_COLOR} strokeWidth={1.5} />
      {label ? (
        <text x={ax + gap} y={y + 10.5} textAnchor="start" fontSize={29} fontFamily={FONT} fill="#000">{label}</text>
      ) : null}
    </g>
  );
}

export default function App() {
  return (
    <div style={{ position: 'absolute', left: 0, top: 0, width: 2085, height: 1349, background: '#fff', overflow: 'hidden' }}>
      <style>{`.wl-chart svg * { clip-path: none !important; } .wl-chart svg { overflow: visible; }`}</style>
      <div className="wl-chart" style={{ position: 'absolute', left: 0, top: 0 }}>
        <LineChart width={2085} height={650} margin={{ top: 57, left: 151.7, right: 77, bottom: 78.3 }}>
          <CartesianGrid vertical={true} horizontal={false} verticalValues={minorDays} stroke={MINOR_GRID} strokeWidth={1.5} />
          <CartesianGrid vertical={true} horizontal={false} verticalValues={majorDays} stroke={MAJOR_GRID} strokeWidth={1.5} />
          <CartesianGrid vertical={false} horizontal={true} horizontalValues={[7.1]} stroke={MAJOR_GRID} strokeWidth={1.5} />
          <XAxis type="number" dataKey="t" domain={[0, X_MAX]} allowDataOverflow ticks={allDayTicks} interval={0} height={1} tickSize={0} tickMargin={0} tickLine={false} axisLine={{ stroke: '#555', strokeWidth: 1.5 }} tick={<XTick labels={daysA} side="bottom" />} />
          <XAxis xAxisId="top" orientation="top" type="number" dataKey="t" domain={[0, X_MAX]} allowDataOverflow ticks={allDayTicks} interval={0} height={1} tickSize={0} tickMargin={0} tickLine={false} axisLine={{ stroke: '#555', strokeWidth: 1.5 }} tick={<XTick labels={daysA} side="top" />} />
          <YAxis type="number" domain={[7.0, 7.2]} allowDataOverflow ticks={topLeftTicks} interval={0} width={1} tickSize={0} tickMargin={0} tickLine={false} axisLine={{ stroke: '#000', strokeWidth: 1.5 }} tick={<LeftTick labels={topLeftLabels} />} />
          <YAxis yAxisId="right" orientation="right" type="number" domain={[7.0, 7.2]} allowDataOverflow ticks={topRightTicks} interval={0} width={1} tickSize={0} tickMargin={0} tickLine={false} axisLine={false} tick={<RightTick labels={topRightLabels} shift={10} gap={22} />} />
          <ReferenceLine x={TOP_RIGHT_AXIS} stroke="#222" strokeWidth={1.5} />
          <Line data={toRows(topRed)} dataKey="v" stroke="#ff0000" strokeWidth={1.5} dot={false} connectNulls={false} isAnimationActive={false} />
        </LineChart>
      </div>
      <div className="wl-chart" style={{ position: 'absolute', left: 0, top: 650 }}>
        <LineChart width={2085} height={699} margin={{ top: 59.4, left: 151.7, right: 77, bottom: 125 }}>
          <CartesianGrid vertical={false} horizontal={true} horizontalValues={botMinorH} stroke={MINOR_GRID} strokeWidth={1.5} />
          <CartesianGrid vertical={true} horizontal={false} verticalValues={minorDays} stroke={MINOR_GRID} strokeWidth={1.5} />
          <CartesianGrid vertical={true} horizontal={false} verticalValues={majorDays} stroke={MAJOR_GRID} strokeWidth={1.5} />
          <CartesianGrid vertical={false} horizontal={true} horizontalValues={botMajorH} stroke={MAJOR_GRID} strokeWidth={1.5} />
          <XAxis type="number" dataKey="t" domain={[0, X_MAX]} allowDataOverflow ticks={allDayTicks} interval={0} height={1} tickSize={0} tickMargin={0} tickLine={false} axisLine={{ stroke: '#555', strokeWidth: 1.5 }} tick={<XTick labels={daysA} side="bottom" />} />
          <XAxis xAxisId="top" orientation="top" type="number" dataKey="t" domain={[0, X_MAX]} allowDataOverflow ticks={allDayTicks} interval={0} height={1} tickSize={0} tickMargin={0} tickLine={false} axisLine={{ stroke: '#555', strokeWidth: 1.5 }} tick={<XTick labels={daysB} side="top" />} />
          <YAxis type="number" domain={[7.0, 7.4]} allowDataOverflow ticks={botTicks} interval={0} width={1} tickSize={0} tickMargin={0} tickLine={false} axisLine={{ stroke: '#000', strokeWidth: 1.5 }} tick={<LeftTick labels={botLabels} />} />
          <YAxis yAxisId="right" orientation="right" type="number" domain={[7.0, 7.4]} allowDataOverflow ticks={botTicks} interval={0} width={1} tickSize={0} tickMargin={0} tickLine={false} axisLine={false} tick={<RightTick labels={botLabels} shift={16} gap={19} />} />
          <ReferenceLine x={BOT_RIGHT_AXIS} stroke="#222" strokeWidth={1.5} />
          <Line data={toRows(botBlue)} dataKey="v" stroke="#0000ff" strokeWidth={1.5} dot={false} isAnimationActive={false} />
          <Line data={toRows(botGreen)} dataKey="v" stroke="#009933" strokeWidth={1.5} dot={false} isAnimationActive={false} />
          <Line data={toRows(botRed)} dataKey="v" stroke="#ff0000" strokeWidth={1.5} dot={false} connectNulls={false} isAnimationActive={false} />
        </LineChart>
      </div>
      <svg width={2085} height={1349} style={{ position: 'absolute', left: 0, top: 0, pointerEvents: 'none' }}>
        <text transform="translate(56,638) rotate(-90)" textAnchor="middle" fontSize={53} fontWeight="bold" fontFamily={FONT} fill="#000">WATER LEVEL (m)</text>
        <text x={1026} y={1338} textAnchor="middle" fontSize={52} fontWeight="bold" fontFamily={FONT} fill="#000">TIME (m)</text>
      </svg>
    </div>
  );
}
